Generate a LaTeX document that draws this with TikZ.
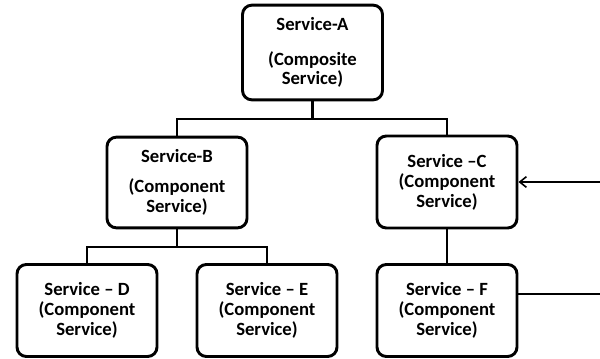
\documentclass[tikz,border=0pt]{standalone}
\usepackage{fontspec}
\setmainfont{Carlito}
\usetikzlibrary{arrows.meta}
\begin{document}
\begin{tikzpicture}[x=0.75pt,y=-0.75pt,
  svc/.style={draw=black,line width=2.2pt,rounded corners=7pt,fill=white,
    minimum width=105pt,align=center,inner sep=0pt,
    font=\fontsize{14}{15}\selectfont\bfseries},
  conn/.style={line width=2.2pt},
  thinline/.style={line width=1.2pt}]
\useasboundingbox (0,0) rectangle (600,358);
\node[svc,minimum height=71pt] (A) at (312.5,52.5) {Service-A\\[11pt](Composite\\[-1pt]Service)};
\node[svc,minimum height=68pt] (B) at (177,182.5) {Service-B\\[7.5pt](Component\\Service)};
\node[svc,minimum height=69pt] (C) at (447,182) {Service –C\\(Component\\Service)};
\node[svc,minimum height=69pt] (D) at (87,310.5) {Service – D\\(Component\\Service)};
\node[svc,minimum height=69pt] (E) at (267,310.5) {Service – E\\(Component\\Service)};
\node[svc,minimum height=69pt] (F) at (447,310.5) {Service – F\\(Component\\Service)};
\coordinate (ja) at (312.5,119);
\coordinate (jb) at (177,247);
\coordinate (inC) at (600,182);
\coordinate (outF) at (600,294);
\draw[conn] (A.south) -- (ja);
\draw[conn] (ja) -| (B.north);
\draw[conn] (ja) -| (C.north);
\draw[conn] (B.south) -- (jb);
\draw[conn] (jb) -| (D.north);
\draw[conn] (jb) -| (E.north);
\draw[conn] (C.south) -- (F.north);
\draw[thinline,-{Straight Barb[length=5pt,width=8pt]}] (inC) -- (C.east);
\draw[thinline] (F.east |- outF) -- (outF);
\end{tikzpicture}
\end{document}
